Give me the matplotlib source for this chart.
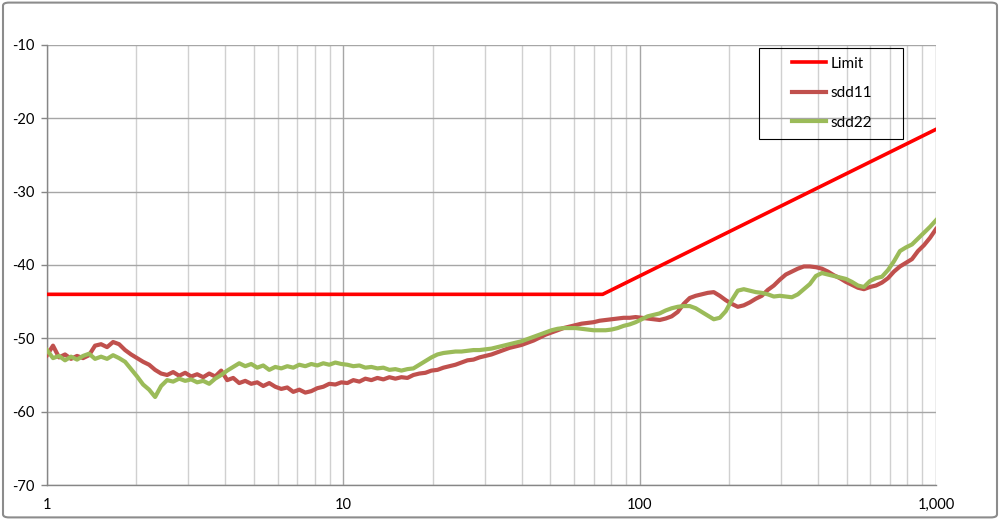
import numpy as np
import matplotlib
matplotlib.use("Agg")
import matplotlib.pyplot as plt
from matplotlib.patches import Rectangle, FancyBboxPatch
from matplotlib.ticker import FixedLocator, LogLocator, NullFormatter

plt.rcParams['font.family'] = ['Lato', 'DejaVu Sans']

# frequency grid of the traces (1 .. 1000, log spaced)
freq = np.geomspace(1, 1000, 149)

sdd11 = [
    -52.3, -51.0, -52.6, -52.2, -52.8, -52.4, -52.7, -52.3, -51.0, -50.8,
    -51.2, -50.5, -50.8, -51.6, -52.2, -52.7, -53.2, -53.6, -54.3, -54.8,
    -55.0, -54.6, -55.1, -54.7, -55.2, -54.9, -55.3, -54.8, -55.2, -54.4,
    -55.7, -55.4, -56.1, -55.8, -56.2, -56.0, -56.5, -56.1, -56.6, -56.9,
    -56.7, -57.3, -57.0, -57.4, -57.2, -56.8, -56.6, -56.2, -56.3, -56.0,
    -56.1, -55.7, -55.9, -55.5, -55.7, -55.4, -55.6, -55.3, -55.5, -55.3,
    -55.4, -55.0, -54.8, -54.7, -54.4, -54.3, -54.0, -53.8, -53.6, -53.3,
    -53.0, -52.9, -52.6, -52.4, -52.2, -51.9, -51.6, -51.3, -51.1, -50.9,
    -50.6, -50.3, -49.9, -49.5, -49.2, -48.9, -48.6, -48.4, -48.2, -48.0,
    -47.9, -47.8, -47.6, -47.5, -47.4, -47.3, -47.2, -47.2, -47.1, -47.2,
    -47.3, -47.4, -47.5, -47.3, -47.0, -46.4, -45.3, -44.5, -44.2, -44.0,
    -43.8, -43.7, -44.2, -44.8, -45.3, -45.7, -45.5, -45.1, -44.6, -44.2,
    -43.4, -42.8, -42.0, -41.3, -40.9, -40.5, -40.2, -40.2, -40.3, -40.5,
    -40.9, -41.4, -41.8, -42.3, -42.7, -43.1, -43.3, -43.0, -42.8, -42.4,
    -41.8, -40.9, -40.2, -39.7, -39.2, -38.1, -37.3, -36.3, -35.1,
]

sdd22 = [
    -51.6, -52.7, -52.4, -53.0, -52.5, -52.9, -52.4, -52.1, -52.8, -52.5,
    -52.8, -52.3, -52.7, -53.2, -54.2, -55.2, -56.3, -57.0, -58.0, -56.5,
    -55.7, -55.9, -55.5, -55.8, -55.6, -56.0, -55.8, -56.2, -55.5, -55.0,
    -54.4, -53.9, -53.4, -53.8, -53.5, -54.0, -53.7, -54.3, -53.9, -54.1,
    -53.8, -54.0, -53.6, -53.8, -53.5, -53.7, -53.4, -53.6, -53.3, -53.5,
    -53.6, -53.8, -53.7, -54.0, -53.9, -54.1, -54.0, -54.3, -54.2, -54.4,
    -54.2, -54.1, -53.6, -53.1, -52.6, -52.2, -52.0, -51.9, -51.8, -51.8,
    -51.7, -51.6, -51.6, -51.5, -51.4, -51.2, -51.0, -50.8, -50.6, -50.4,
    -50.1, -49.8, -49.5, -49.2, -48.9, -48.7, -48.6, -48.6, -48.6, -48.7,
    -48.8, -48.9, -48.9, -48.9, -48.8, -48.6, -48.3, -48.1, -47.8, -47.4,
    -47.0, -46.8, -46.6, -46.2, -45.9, -45.7, -45.6, -45.6, -45.9, -46.4,
    -46.9, -47.4, -47.2, -46.3, -44.8, -43.5, -43.3, -43.5, -43.7, -43.8,
    -44.0, -44.3, -44.2, -44.3, -44.4, -44.0, -43.3, -42.6, -41.5, -41.1,
    -41.3, -41.5, -41.7, -41.9, -42.3, -42.8, -43.0, -42.2, -41.8, -41.6,
    -40.7, -39.5, -38.1, -37.6, -37.2, -36.4, -35.6, -34.8, -33.9,
]

limit_freq = [1, 75, 1000]
limit_db = [-44, -44, -21.5]

x_ticks = [1, 10, 100, 1000]
x_labels = ['1', '10', '100', '1,000']
y_ticks = [-70, -60, -50, -40, -30, -20, -10]

fig = plt.figure(figsize=(10, 5.2), dpi=100)
ax = fig.add_axes([0.047, 0.0673, 0.889, 0.8462])

ax.plot(limit_freq, limit_db, color='#FF0000', lw=2.6, label='Limit', zorder=3)
ax.plot(freq, sdd11, color='#C0504D', lw=3.0, label='sdd11', zorder=4)
ax.plot(freq, sdd22, color='#9BBB59', lw=3.0, label='sdd22', zorder=5)

ax.set_xscale('log')
ax.set_xlim(1, 1000)
ax.set_ylim(-70, -10)
ax.xaxis.set_major_locator(FixedLocator(x_ticks))
ax.set_xticklabels(x_labels)
ax.xaxis.set_minor_locator(LogLocator(base=10, subs=np.arange(2, 10)))
ax.xaxis.set_minor_formatter(NullFormatter())
ax.set_yticks(y_ticks)
ax.set_yticklabels([str(v) for v in y_ticks])

ax.grid(True, which='major', axis='both', color='#A6A6A6', lw=1.0, zorder=0)
ax.grid(True, which='minor', axis='x', color='#D0D0D0', lw=1.0, zorder=0)
ax.set_axisbelow(True)

for s in ['top', 'right']:
    ax.spines[s].set_visible(False)
for s in ['left', 'bottom']:
    ax.spines[s].set_color('#868686')
    ax.spines[s].set_linewidth(1.0)

ax.tick_params(axis='x', which='both', length=0, pad=9, labelsize=10.5, colors='#000000')
ax.tick_params(axis='y', which='major', length=4, width=1, color='#868686',
               pad=5, labelsize=10.5, labelcolor='#000000')

# legend: frame drawn separately so the inner padding matches
leg = ax.legend(loc='upper left', bbox_to_anchor=(0.792, 0.891),
                bbox_transform=fig.transFigure, frameon=False, fontsize=11,
                handlelength=2.2, handletextpad=0.3, labelspacing=1.02,
                borderpad=0, borderaxespad=0)
fig.patches.append(Rectangle((0.759, 1 - 139 / 520), 0.144, 91 / 520,
                             transform=fig.transFigure, fill=False,
                             ec='#000000', lw=0.8, zorder=10))

# outer chart border
fig.patches.append(FancyBboxPatch((0.003, 0.005), 0.994, 0.99,
                                  boxstyle='round,pad=0,rounding_size=0.006',
                                  transform=fig.transFigure, fill=False,
                                  ec='#8C8C8C', lw=1.5))

fig.savefig('out.png', dpi=100)
